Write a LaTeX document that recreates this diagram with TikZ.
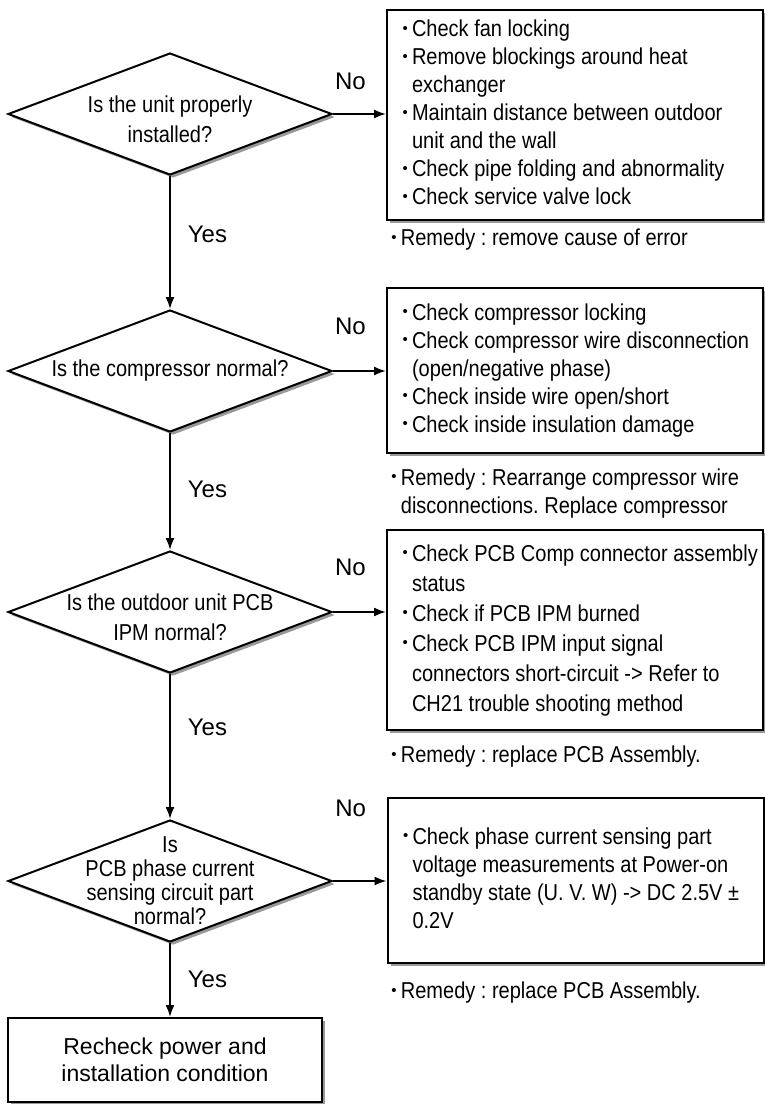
\documentclass[tikz,border=0pt]{standalone}
\usepackage{fontspec}
\setmainfont{Liberation Sans}[FakeStretch=0.87]
\newfontfamily\widefont{Liberation Sans}
\usetikzlibrary{arrows.meta,shapes.geometric,shadows}

\frenchspacing
\newcommand{\bul}{\makebox[4.75pt][l]{\raisebox{1.6pt}{\widefont\fontsize{7.5}{7.5}\selectfont\textbullet}}}
\newcommand{\checks}[2][0pt]{\spaceskip=0pt\xspaceskip=0pt\begin{tabular}{@{\hspace{#1}}l@{}l@{}}#2\end{tabular}}

\tikzset{
    boxshadow/.style={drop shadow={shadow xshift=1.5pt,shadow yshift=-1.5pt,fill=black!40,opacity=1}},
    decision/.style={diamond,draw,line width=1pt,fill=white,boxshadow,minimum width=162pt,minimum height=61pt,inner sep=0pt},
    dtext/.style={align=center,inner sep=0pt,font=\fontsize{11.5}{15}\selectfont},
    checkbox/.style={rectangle,draw,line width=1pt,fill=white,boxshadow,text width=184pt,inner xsep=2pt,align=left,font=\fontsize{11.5}{14}\selectfont},
    remedy/.style={anchor=west,inner sep=0pt,align=left,font=\fontsize{11.5}{14}\selectfont},
    endbox/.style={rectangle,draw,line width=1pt,fill=white,boxshadow,minimum width=157pt,minimum height=42pt,align=center,font=\widefont\fontsize{11.5}{13.5}\selectfont},
    arr/.style={-{Latex[length=6pt,width=4.5pt]},line width=0.9pt},
    lbl/.style={inner sep=0pt,font=\widefont\fontsize{12}{14}\selectfont}
}

\begin{document}
\begin{tikzpicture}[x=0.5pt,y=-0.5pt]
    \useasboundingbox (0,0) rectangle (765,1104);

    \node[decision,label={[dtext,yshift=-2.5pt]center:Is the unit properly\\installed?}] (d1) at (170,114) {};
    \node[decision,label={[dtext]center:Is the compressor normal?}] (d2) at (170,371) {};
    \node[decision,label={[dtext,yshift=-2.5pt]center:Is the outdoor unit PCB\\IPM normal?}] (d3) at (170,612) {};
    \node[decision,label={[dtext,font=\fontsize{11.5}{12}\selectfont]center:Is\\PCB phase current\\sensing circuit part\\normal?}] (d4) at (170,881) {};
    \node[endbox] (fin) at (165,1060) {Recheck power and\\installation condition};

    \node[checkbox,minimum height=103pt] (b1) at (575,115) {\checks[5.75pt]{
        \bul & Check fan locking\\
        \bul & Remove blockings around heat\\
             & exchanger\\
        \bul & Maintain distance between outdoor\\
             & unit and the wall\\
        \bul & Check pipe folding and abnormality\\
        \bul & Check service valve lock}};
    \node[checkbox,minimum height=82.5pt] (b2) at (575,370.5) {\checks[5.75pt]{
        \bul & Check compressor locking\\
        \bul & Check compressor wire disconnection\\
             & (open/negative phase)\\
        \bul & Check inside wire open/short\\
        \bul & Check inside insulation damage}};
    \node[checkbox,minimum height=100pt,font=\fontsize{11.5}{15}\selectfont] (b3) at (575,630) {\checks[5.75pt]{
        \bul & Check PCB Comp connector assembly\\
             & status\\
        \bul & Check if PCB IPM burned\\
        \bul & Check PCB IPM input signal\\
             & connectors short-circuit -> Refer to\\
             & CH21 trouble shooting method}};
    \node[checkbox,minimum height=82.5pt] (b4) at (575.5,880.5) {\checks[5.75pt]{
        \bul & Check phase current sensing part\\
             & voltage measurements at Power-on\\
             & standby state (U. V. W) -> DC 2.5V ±\\
             & 0.2V}};

    \node[remedy] (r1) at (391,240) {\checks{\bul & Remedy : remove cause of error}};
    \node[remedy] (r2) at (391,493.5) {\checks{
        \bul & Remedy : Rearrange compressor wire\\
             & disconnections. Replace compressor}};
    \node[remedy] (r3) at (391,757) {\checks{\bul & Remedy : replace PCB Assembly.}};
    \node[remedy] (r4) at (391,993) {\checks{\bul & Remedy : replace PCB Assembly.}};

    \draw[arr] (d1.east) -- (d1.east -| b1.west) node[lbl,pos=0.33,yshift=16.5pt] (no1) {No};
    \draw[arr] (d2.east) -- (d2.east -| b2.west) node[lbl,pos=0.33,yshift=22.5pt] (no2) {No};
    \draw[arr] (d3.east) -- (d3.east -| b3.west) node[lbl,pos=0.33,yshift=22.5pt] (no3) {No};
    \draw[arr] (d4.east) -- (d4.east -| b4.west) node[lbl,pos=0.33,yshift=36.5pt] (no4) {No};

    \draw[arr] (d1.south) -- (d2.north) node[lbl,pos=0.44,anchor=west,xshift=8.5pt] (yes1) {Yes};
    \draw[arr] (d2.south) -- (d3.north) node[lbl,pos=0.48,anchor=west,xshift=8.5pt] (yes2) {Yes};
    \draw[arr] (d3.south) -- (d4.north) node[lbl,pos=0.37,anchor=west,xshift=8.5pt] (yes3) {Yes};
    \draw[arr] (d4.south) -- (d4.south |- fin.north) node[lbl,pos=0.49,anchor=west,xshift=8.5pt] (yes4) {Yes};
\end{tikzpicture}
\end{document}
